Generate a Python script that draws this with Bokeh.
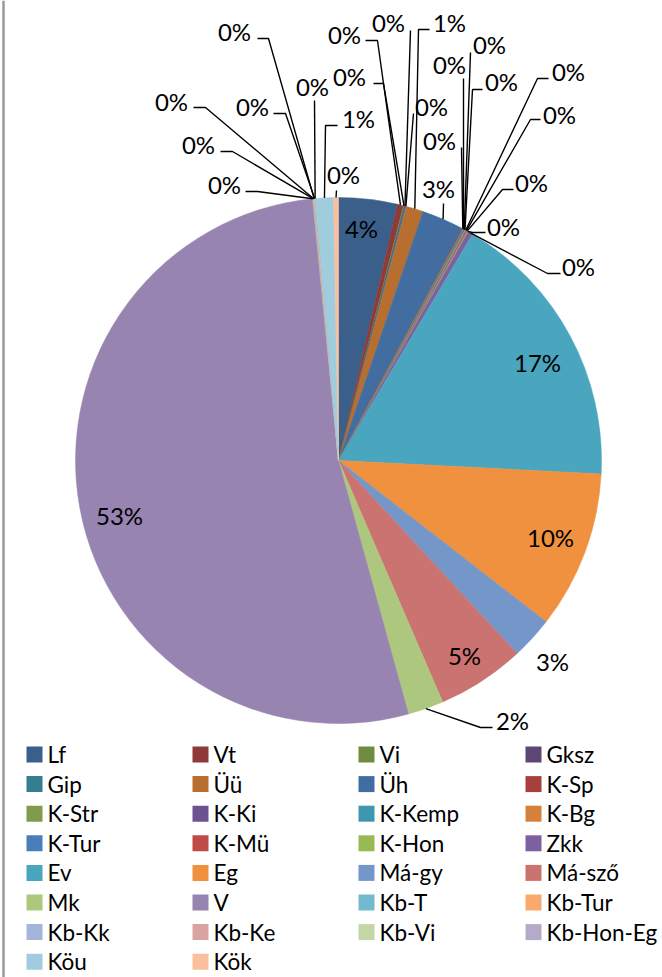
import math
from bokeh.plotting import figure
from bokeh.models import Range1d, ColumnDataSource
from bokeh.core.properties import value
from bokeh.embed import file_html
from bokeh.resources import INLINE

# ---------------- data ----------------
categories = ["Lf", "Vt", "Vi", "Gksz", "Gip", "Üü", "Üh", "K-Sp",
              "K-Str", "K-Ki", "K-Kemp", "K-Bg", "K-Tur", "K-Mü", "K-Hon", "Zkk",
              "Ev", "Eg", "Má-gy", "Má-sző", "Mk", "V", "Kb-T", "Kb-Tur",
              "Kb-Kk", "Kb-Ke", "Kb-Vi", "Kb-Hon-Eg", "Köu", "Kök"]
values = [3.6, 0.37, 0.07, 0.05, 0.07, 1.05, 2.6, 0.05,
          0.05, 0.05, 0.05, 0.05, 0.05, 0.05, 0.05, 0.3,
          17.3, 9.7, 2.6, 5.4, 2.2, 52.7, 0.03, 0.03,
          0.03, 0.03, 0.03, 0.03, 1.1, 0.3]
colors = ["#3A5F8B", "#8E3A38", "#718B3F", "#5D4777", "#357E92", "#B86E2F", "#426DA1", "#A5403D",
          "#809C4B", "#6C5290", "#3E97AE", "#D6813A", "#4A7EBB", "#BE4B48", "#98B954", "#7D60A0",
          "#4AA6BF", "#F0913F", "#7596C9", "#CB7371", "#AEC77E", "#9884B0", "#73BACF", "#F9A96B",
          "#A3B5D8", "#D9A3A2", "#C4D6A6", "#B6AACA", "#A0CDDD", "#FAC09D"]

# ---------------- layout (image pixel coordinates) ----------------
CX, CY, R = 338, 460, 263
# label text centres
label_pos = [(361, 228), (344, 34), (349, 76), (388, 22), (431, 106), (449, 22), (438, 188), (439, 140),
             (449, 64), (489, 44), (501, 81), (568, 71), (559, 114), (531, 182), (503, 226), (578, 266),
             (537, 362), (550, 537), (552, 661), (464, 655), (512, 720), (119, 515), (224, 184), (198, 144),
             (171, 101), (234, 31), (252, 106), (312, 86), (358, 118), (343, 174)]
# leader lines: points from the label side toward the pie (pie point is appended)
leaders = [None, [(365, 40), (377, 40)], [(373, 83), (383, 83)], [(410, 30)], [(413, 113)],
           [(429, 29), (418, 29)], [(443, 203)], [(461, 147)],
           [(463, 78)], [(470, 52)], [(482, 89), (472, 89)], [(548, 78), (537, 78)],
           [(540, 119), (530, 119)], [(513, 189), (502, 189)], [(485, 232), (472, 232)],
           [(560, 273), (547, 273)],
           None, None, None, None, [(492, 727), (480, 727)], None,
           [(245, 191), (257, 191)], [(220, 151), (232, 151)],
           [(193, 107), (205, 107)], [(257, 38), (268, 38)], [(273, 113), (285, 113)], [(314, 100)],
           [(337, 125), (325, 125)], [(336, 190)]]

PAGE_W, PAGE_H = 662, 977


def Y(yi):
    return PAGE_H - yi


p = figure(width=PAGE_W, height=PAGE_H, x_range=Range1d(0, PAGE_W), y_range=Range1d(0, PAGE_H),
           x_axis_type=None, y_axis_type=None, toolbar_location=None,
           output_backend="svg", min_border=0)
p.outline_line_color = None
p.grid.visible = False
p.background_fill_color = "white"
p.border_fill_color = "white"

# chart-area border visible at left edge
p.segment(x0=[3], y0=[0], x1=[3], y1=[PAGE_H], line_color="#9A9A9A", line_width=2.5)

total = sum(values)
starts, ends, mids = [], [], []
acc = 0.0
for v in values:
    s = acc / total * 360.0
    acc += v
    e = acc / total * 360.0
    starts.append(math.radians(90 - s))
    ends.append(math.radians(90 - e))
    mids.append((s + e) / 2)

src = ColumnDataSource(dict(start=starts, end=ends, color=colors))
p.wedge(x=CX, y=Y(CY), radius=R, start_angle="start", end_angle="end", direction="clock",
        fill_color="color", line_color="color", line_width=0.5, source=src)

# leader lines
lx, ly = [], []
for i, pts in enumerate(leaders):
    if pts is None:
        continue
    a = math.radians(mids[i])
    px = CX + R * math.sin(a)
    py = CY - R * math.cos(a)
    xs = [q[0] for q in pts] + [px]
    ys = [Y(q[1]) for q in pts] + [Y(py)]
    lx.append(xs)
    ly.append(ys)
p.multi_line(xs=lx, ys=ly, line_color="black", line_width=1.4)

# data labels
pct = [f"{round(v / total * 100)}%" for v in values]
p.text(x=[q[0] for q in label_pos], y=[Y(q[1]) for q in label_pos], text=pct,
       text_font=value("Lato"), text_font_size="24px", text_align="center",
       text_baseline="middle", text_color="black")

# legend
col_x = [26, 192, 358, 525]
row0, row_h = 754, 29.6
sq_x, sq_y, tx, ty = [], [], [], []
for i, c in enumerate(categories):
    col, row = i % 4, i // 4
    sq_x.append(col_x[col] + 8)
    sq_y.append(Y(row0 + row * row_h))
    tx.append(col_x[col] + 21)
    ty.append(Y(row0 + row * row_h))
p.rect(x=sq_x, y=sq_y, width=16, height=16, fill_color=colors, line_color=None)
p.text(x=tx, y=ty, text=categories, text_font=value("Lato"), text_font_size="22.5px",
       text_align="left", text_baseline="middle", text_color="black")

open("out.html", "w").write(file_html(p, INLINE))
